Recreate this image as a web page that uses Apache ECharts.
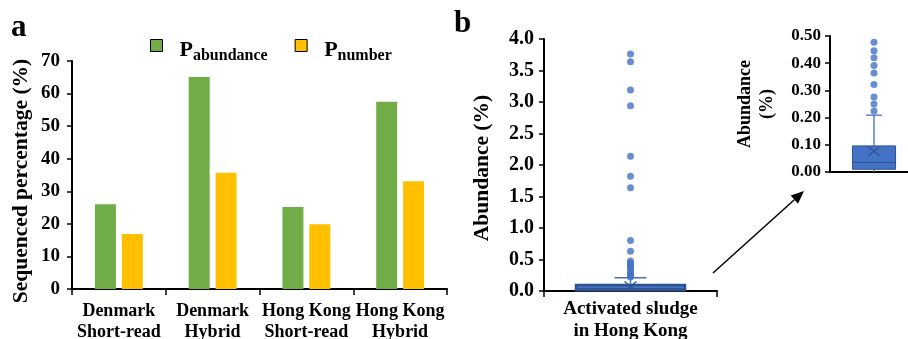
<!DOCTYPE html>
<html>
<head>
<meta charset="utf-8">
<script src="https://cdn.jsdelivr.net/npm/echarts@6/dist/echarts.min.js"></script>
<style>html,body{margin:0;padding:0;background:#fff;}#c{width:908px;height:339px;}</style>
</head>
<body>
<div id="c"></div>
<script>
// ---- Panel a data ----
const categoriesA = ['Denmark\nShort-read', 'Denmark\nHybrid', 'Hong Kong\nShort-read', 'Hong Kong\nHybrid'];
const pAbundance = [26.0, 65.1, 25.2, 57.5];
const pNumber = [16.9, 35.7, 19.9, 33.1];
const yTicksA = [0, 10, 20, 30, 40, 50, 60, 70];

// ---- Panel b data ----
const categoryB = ['Activated sludge\nin Hong Kong'];
const boxStats = [0.0, 0.01, 0.035, 0.096, 0.209]; // min, Q1, median, Q3, max whisker
const meanValue = 0.076;
const outliers = [0.224, 0.25, 0.276, 0.322, 0.364, 0.392, 0.42, 0.446, 0.477, 0.63, 0.80, 1.64, 1.82, 2.14, 2.94, 3.19, 3.64, 3.76];
const yTicksB = [0, 0.5, 1.0, 1.5, 2.0, 2.5, 3.0, 3.5, 4.0];
const yTicksInset = [0, 0.1, 0.2, 0.3, 0.4, 0.5];

const FONT = 'Liberation Serif';
const BLUE = '#4472C4';
const BLUE_DARK = '#2F528F';

const chart = echarts.init(document.getElementById('c'), null, {renderer: 'canvas'});

function boxRender(boxRatio, capRatio, lw, xSize, borderW) {
  return function (params, api) {
    const idx = api.value(0);
    const catW = api.size([1, 0])[0];
    const bw = catW * boxRatio;
    const cw = catW * capRatio;
    const pMin = api.coord([idx, api.value(1)]);
    const pQ1 = api.coord([idx, api.value(2)]);
    const pMed = api.coord([idx, api.value(3)]);
    const pQ3 = api.coord([idx, api.value(4)]);
    const pMax = api.coord([idx, api.value(5)]);
    const pMean = api.coord([idx, api.value(6)]);
    const cx = pQ1[0];
    const ln = {stroke: BLUE, lineWidth: lw};
    return {
      type: 'group',
      children: [
        {type: 'line', shape: {x1: cx, y1: pQ3[1], x2: cx, y2: pMax[1]}, style: ln},
        {type: 'line', shape: {x1: cx - cw / 2, y1: pMax[1], x2: cx + cw / 2, y2: pMax[1]}, style: ln},
        {type: 'line', shape: {x1: cx, y1: pQ1[1], x2: cx, y2: pMin[1]}, style: ln},
        {type: 'rect', shape: {x: cx - bw / 2, y: pQ3[1], width: bw, height: pQ1[1] - pQ3[1]},
          style: {fill: BLUE, stroke: BLUE_DARK, lineWidth: borderW}},
        {type: 'line', shape: {x1: cx - bw / 2, y1: pMed[1], x2: cx + bw / 2, y2: pMed[1]}, style: {stroke: BLUE_DARK, lineWidth: 1}},
        {type: 'line', shape: {x1: pMean[0] - xSize, y1: pMean[1] - xSize * 0.8, x2: pMean[0] + xSize, y2: pMean[1] + xSize * 0.8}, style: {stroke: BLUE_DARK, lineWidth: 1.2}},
        {type: 'line', shape: {x1: pMean[0] - xSize, y1: pMean[1] + xSize * 0.8, x2: pMean[0] + xSize, y2: pMean[1] - xSize * 0.8}, style: {stroke: BLUE_DARK, lineWidth: 1.2}}
      ]
    };
  };
}

const boxData = [[0].concat(boxStats).concat([meanValue])];
const outlierData = outliers.map(v => [0, v]);

const axisLineStyle = {lineStyle: {color: '#000', width: 2}};
const tickStyle = {show: true, inside: false, length: 5, lineStyle: {color: '#000', width: 1.5}};

// arrow annotation
const ax1 = 713, ay1 = 273, ax2 = 804, ay2 = 191;
const dx = ax2 - ax1, dy = ay2 - ay1, dl = Math.sqrt(dx * dx + dy * dy);
const ux = dx / dl, uy = dy / dl;
const headL = 13, headW = 5.5;
const bx = ax2 - ux * headL, by = ay2 - uy * headL;

const option = {
  backgroundColor: '#fff',
  animation: false,
  textStyle: {fontFamily: FONT, fontWeight: 'bold', color: '#000'},
  legend: {
    left: 145, top: 24,
    itemWidth: 12, itemHeight: 12, itemGap: 27,
    icon: 'rect',
    itemStyle: {borderColor: '#000', borderWidth: 1},
    data: ['Pabundance', 'Pnumber'],
    formatter: function (name) {
      return '{e| }\n{g|}{p|P}{s|' + name.slice(1) + '}';
    },
    textStyle: {
      fontFamily: FONT, fontWeight: 'bold', color: '#000',
      rich: {
        e: {fontSize: 8, lineHeight: 12},
        g: {width: 12},
        p: {fontFamily: FONT, fontWeight: 'bold', fontSize: 22, lineHeight: 22, verticalAlign: 'top', color: '#000'},
        s: {fontFamily: FONT, fontWeight: 'bold', fontSize: 16, lineHeight: 25, verticalAlign: 'bottom', color: '#000'}
      }
    }
  },
  grid: [
    {left: 72, right: 461, top: 61, bottom: 50, outerBoundsMode: 'none'},
    {left: 544, right: 191, top: 39, bottom: 48, outerBoundsMode: 'none'},
    {left: 830, right: -10, top: 36, bottom: 167, outerBoundsMode: 'none'}
  ],
  xAxis: [
    {
      gridIndex: 0, type: 'category', data: categoriesA,
      axisLine: axisLineStyle, axisTick: {show: true, length: 6, lineStyle: {color: '#000', width: 1.5}},
      axisLabel: {interval: 0, fontFamily: FONT, fontWeight: 'bold', fontSize: 18, lineHeight: 21, color: '#000', margin: 12}
    },
    {
      gridIndex: 1, type: 'category', data: categoryB,
      axisLine: axisLineStyle, axisTick: {show: true, length: 6, lineStyle: {color: '#000', width: 1.5}},
      axisLabel: {interval: 0, fontFamily: FONT, fontWeight: 'bold', fontSize: 19, lineHeight: 22, color: '#000', margin: 7}
    },
    {
      gridIndex: 2, type: 'category', data: [''],
      axisLine: axisLineStyle, axisTick: {show: false}, axisLabel: {show: false}
    }
  ],
  yAxis: [
    {
      gridIndex: 0, type: 'value', min: yTicksA[0], max: yTicksA[yTicksA.length - 1], interval: 10,
      name: 'Sequenced percentage (%)', nameLocation: 'middle', nameGap: 40,
      nameTextStyle: {fontFamily: FONT, fontWeight: 'bold', fontSize: 21.5, color: '#000', padding: [0, 12, 0, 0]},
      axisLine: {show: true, lineStyle: {color: '#000', width: 2}}, axisTick: tickStyle,
      splitLine: {show: false},
      axisLabel: {fontFamily: FONT, fontWeight: 'bold', fontSize: 19, color: '#000', margin: 12}
    },
    {
      gridIndex: 1, type: 'value', min: yTicksB[0], max: yTicksB[yTicksB.length - 1], interval: 0.5,
      name: 'Abundance (%)', nameLocation: 'middle', nameGap: 51,
      nameTextStyle: {fontFamily: FONT, fontWeight: 'bold', fontSize: 21.5, color: '#000', padding: [0, 6, 0, 0]},
      axisLine: {show: true, lineStyle: {color: '#000', width: 2}}, axisTick: tickStyle,
      splitLine: {show: false},
      axisLabel: {fontFamily: FONT, fontWeight: 'bold', fontSize: 20, color: '#000', margin: 10,
        formatter: v => v.toFixed(1)}
    },
    {
      gridIndex: 2, type: 'value', min: yTicksInset[0], max: yTicksInset[yTicksInset.length - 1], interval: 0.1,
      name: 'Abundance\n(%)', nameLocation: 'middle', nameGap: 52,
      nameTextStyle: {fontFamily: FONT, fontWeight: 'bold', fontSize: 18, lineHeight: 22, color: '#000'},
      axisLine: {show: true, lineStyle: {color: '#000', width: 2}}, axisTick: tickStyle,
      splitLine: {show: false},
      axisLabel: {fontFamily: FONT, fontWeight: 'bold', fontSize: 17, color: '#000', margin: 9,
        formatter: v => v.toFixed(2)}
    }
  ],
  series: [
    {
      name: 'Pabundance', type: 'bar', xAxisIndex: 0, yAxisIndex: 0, data: pAbundance,
      barWidth: 21, barGap: '28%', itemStyle: {color: '#70AD47'}
    },
    {
      name: 'Pnumber', type: 'bar', xAxisIndex: 0, yAxisIndex: 0, data: pNumber,
      barWidth: 21, barGap: '28%', itemStyle: {color: '#FFC000'}
    },
    {
      type: 'custom', xAxisIndex: 1, yAxisIndex: 1, data: boxData,
      renderItem: boxRender(0.63, 0.185, 1.5, 6, 2.5), z: 3
    },
    {
      type: 'scatter', xAxisIndex: 1, yAxisIndex: 1, data: outlierData,
      symbolSize: 7, itemStyle: {color: BLUE}, z: 4
    },
    {
      type: 'custom', xAxisIndex: 2, yAxisIndex: 2, data: boxData,
      renderItem: boxRender(0.49, 0.18, 1.3, 5.5, 1), z: 3
    },
    {
      type: 'scatter', xAxisIndex: 2, yAxisIndex: 2, data: outlierData.filter(d => d[1] <= 0.5),
      symbolSize: 7, itemStyle: {color: BLUE}, z: 4
    }
  ],
  graphic: [
    {type: 'text', left: 11, top: 12, style: {text: 'a', fontFamily: FONT, fontWeight: 'bold', fontSize: 31, fill: '#000'}},
    {type: 'text', left: 454, top: 8, style: {text: 'b', fontFamily: FONT, fontWeight: 'bold', fontSize: 31, fill: '#000'}},
    {type: 'line', shape: {x1: ax1, y1: ay1, x2: bx, y2: by}, style: {stroke: '#000', lineWidth: 1.5}},
    {type: 'polygon', shape: {points: [[ax2, ay2], [bx - uy * headW, by + ux * headW], [bx + uy * headW, by - ux * headW]]}, style: {fill: '#000'}}
  ]
};
chart.setOption(option);
</script>
</body>
</html>
